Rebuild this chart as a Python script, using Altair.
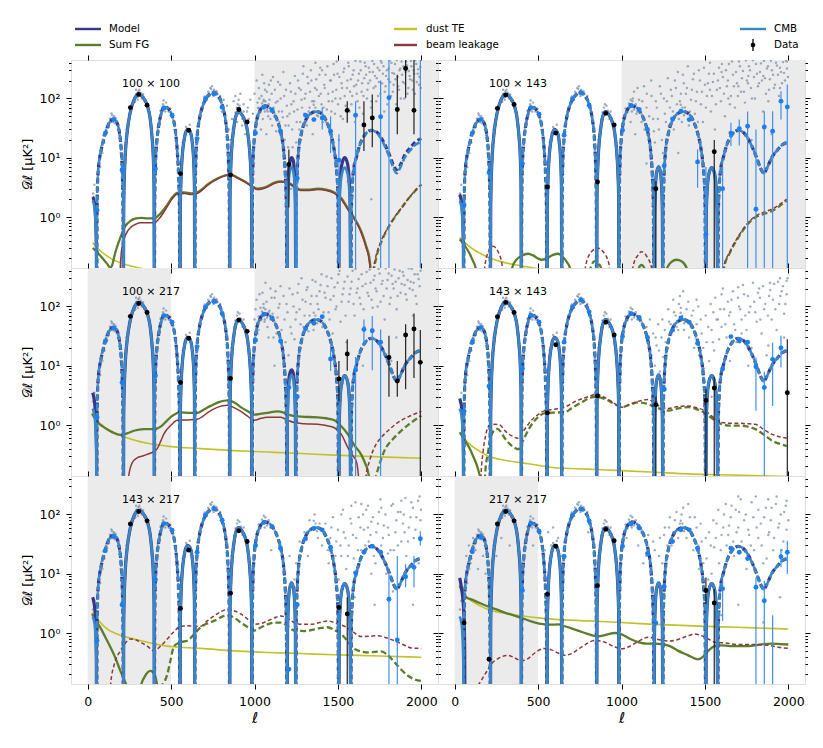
import altair as alt
import pandas as pd

# ------------------------------------------------------------------ data
PANEL_NAMES = ["100 × 100", "100 × 143", "100 × 217", "143 × 143", "143 × 217", "217 × 217"]

# excluded (grey shaded) multipole ranges per panel
SPANS = [[(1000, 2100)], [(1000, 2100)], [(0, 500), (1000, 2100)], [], [(0, 500)], [(0, 500)]]

# CMB TE best-fit |D_ell| by sign-constant arch (sign, [(ell, |D|)])
CMB_ARCHES = [
    (+1, [(30, 1.9), (38, 1.6), (44, 1.2), (49, 0.6), (52, 0.25), (54, 0.01)]),
    (-1, [(54, 0.01), (56, 1.2), (59, 3.5), (64, 6.5), (72, 10), (82, 14), (95, 20), (106, 26), (122, 35),
          (138, 42), (155, 45), (170, 42), (184, 33), (196, 20), (204, 10), (209, 4), (212, 1.2), (214, 0.01)]),
    (+1, [(214, 0.01), (216, 1.5), (220, 5), (226, 12), (236, 26), (256, 60), (280, 98), (306, 117), (330, 106),
          (356, 78), (374, 47), (386, 22), (394, 9), (398, 3), (400, 0.01)]),
    (-1, [(400, 0.01), (402, 2), (406, 7), (414, 18), (425, 33), (440, 55), (458, 72), (480, 68), (505, 52),
          (524, 31), (537, 13), (545, 5), (550, 1.5), (553, 0.01)]),
    (+1, [(553, 0.01), (555, 1.2), (559, 4), (566, 10), (578, 20), (598, 30), (615, 27), (628, 17), (636, 8),
          (640, 3), (642, 0.01)]),
    (-1, [(642, 0.01), (644, 2), (648, 8), (656, 22), (670, 45), (690, 75), (710, 100), (735, 122), (752, 128),
          (775, 118), (805, 80), (825, 45), (838, 20), (845, 7), (849, 2), (851, 0.01)]),
    (+1, [(851, 0.01), (853, 2), (857, 6), (864, 15), (876, 32), (890, 52), (905, 60), (925, 53), (945, 40),
          (958, 28), (970, 14), (978, 6), (983, 2), (985, 0.01)]),
    (-1, [(985, 0.01), (987, 2), (991, 8), (998, 20), (1010, 38), (1030, 60), (1060, 75), (1090, 70), (1110, 60),
          (1140, 40), (1160, 25), (1175, 13), (1185, 5), (1191, 1.5), (1195, 0.01)]),
    (+1, [(1195, 0.01), (1198, 1), (1203, 3), (1210, 5.5), (1222, 7), (1232, 6), (1240, 3.5), (1245, 1.2),
          (1248, 0.01)]),
    (-1, [(1248, 0.01), (1250, 1.5), (1255, 5), (1263, 12), (1280, 25), (1305, 42), (1335, 55), (1370, 60),
          (1400, 56), (1430, 42), (1455, 27), (1475, 15), (1490, 7), (1500, 2.5), (1505, 0.01)]),
    (+1, [(1505, 0.01), (1508, 1), (1514, 3), (1525, 5.5), (1540, 6.8), (1555, 5.8), (1566, 3.5), (1573, 1.2),
          (1578, 0.01)]),
    (-1, [(1578, 0.01), (1580, 1), (1585, 3), (1595, 6.5), (1610, 10), (1630, 16), (1660, 24), (1700, 29),
          (1740, 25), (1780, 16), (1810, 10), (1835, 6.5), (1852, 5.5), (1870, 6.5), (1900, 10), (1940, 14),
          (1970, 17), (2000, 18)]),
]

# total model: arches that differ from the CMB curve, per panel {arch index: points}
MODEL_OVERRIDES = [
    {0: [(30, 2.2), (38, 1.9), (44, 1.4), (49, 0.7), (52, 0.3), (54, 0.01)],
     8: [(1195, 0.01), (1197, 1.5), (1202, 4.5), (1210, 8), (1222, 10), (1232, 9), (1240, 5), (1245, 1.8), (1248, 0.01)],
     10: [(1505, 0.01), (1507, 1.5), (1513, 4.5), (1525, 8), (1540, 10), (1555, 8.5), (1566, 5), (1573, 1.8), (1578, 0.01)],
     11: [(1578, 0.01), (1580, 1), (1585, 3), (1595, 6.5), (1610, 10), (1630, 16), (1660, 24), (1700, 29),
          (1740, 26), (1780, 17), (1810, 11), (1835, 7.2), (1852, 6.3), (1870, 7.2), (1900, 11), (1940, 15.5),
          (1970, 19), (2000, 21)]},
    {0: [(30, 2.4), (38, 2.0), (44, 1.5), (49, 0.75), (52, 0.3), (54, 0.01)]},
    {0: [(30, 3.5), (38, 2.8), (44, 2.0), (49, 1.0), (53, 0.4), (55, 0.01)],
     8: [(1195, 0.01), (1197, 1.3), (1202, 4), (1210, 7), (1222, 8.5), (1232, 7.5), (1240, 4.3), (1245, 1.5), (1248, 0.01)]},
    {0: [(30, 2.8), (38, 2.3), (44, 1.7), (49, 0.85), (52, 0.35), (54, 0.01)]},
    {0: [(30, 4.0), (38, 3.2), (44, 2.3), (49, 1.2), (52, 0.45), (54, 0.01)]},
    {0: [(30, 8.5), (38, 6.5), (46, 4.5), (52, 3.0), (57, 1.5), (60, 0.5), (62, 0.01)]},
]

DUST = [
    [(30, 0.37), (76, 0.27), (146, 0.195), (236, 0.155), (330, 0.135), (420, 0.12)],
    [(30, 0.45), (100, 0.30), (200, 0.21), (300, 0.17), (400, 0.15), (490, 0.135), (560, 0.12)],
    [(26, 1.6), (76, 1.05), (156, 0.75), (277, 0.56), (477, 0.44), (677, 0.40), (877, 0.37), (1078, 0.35),
     (1279, 0.33), (1479, 0.31), (1750, 0.29), (2000, 0.275)],
    [(30, 0.75), (60, 0.58), (100, 0.45), (150, 0.36), (200, 0.30), (300, 0.255), (400, 0.23), (500, 0.21),
     (600, 0.19), (800, 0.18), (1000, 0.17), (1200, 0.16), (1400, 0.15), (1600, 0.145), (1800, 0.14), (2000, 0.135)],
    [(26, 2.2), (50, 1.8), (76, 1.5), (120, 1.15), (176, 0.96), (277, 0.79), (377, 0.68), (477, 0.6), (577, 0.57),
     (677, 0.55), (877, 0.5), (1078, 0.47), (1279, 0.45), (1479, 0.43), (1750, 0.41), (2000, 0.39)],
    [(30, 6.7), (50, 4.8), (70, 4.1), (100, 3.5), (150, 2.9), (200, 2.5), (300, 2.15), (400, 1.95), (500, 1.8),
     (600, 1.7), (800, 1.6), (1000, 1.5), (1200, 1.4), (1400, 1.33), (1600, 1.27), (1800, 1.22), (2000, 1.17)],
]

SUM_FG = [
    [(+1, [(30, 0.30), (60, 0.25), (90, 0.20), (115, 0.165), (135, 0.14), (145, 0.15), (165, 0.25), (196, 0.45),
           (225, 0.7), (256, 0.86), (290, 0.95), (317, 0.97), (360, 0.95), (397, 0.95), (430, 1.1), (477, 1.6),
           (510, 2.2), (537, 2.55), (580, 2.6), (620, 2.5), (657, 2.6), (690, 3.0), (717, 3.5), (780, 4.5),
           (830, 5.1), (858, 5.2), (900, 4.6), (940, 4.0), (975, 3.5), (1018, 3.0), (1050, 3.1), (1078, 3.3),
           (1120, 3.8), (1158, 4.0), (1190, 3.9), (1218, 3.6), (1250, 3.1), (1279, 2.9), (1330, 2.9), (1379, 3.0),
           (1430, 2.9), (1479, 2.6), (1520, 2.1), (1559, 1.4), (1600, 0.95), (1639, 0.58), (1670, 0.32),
           (1689, 0.2), (1698, 0.1), (1703, 0.01)]),
     (-1, [(1703, 0.01), (1712, 0.1), (1729, 0.2), (1759, 0.37), (1800, 0.65), (1840, 0.98), (1880, 1.4),
           (1920, 2.0), (1960, 2.7), (2000, 3.5)])],
    [(+1, [(30, 0.42), (60, 0.33), (90, 0.24), (110, 0.18), (125, 0.14), (132, 0.01)]),
     (+1, [(335, 0.01), (345, 0.14), (370, 0.19), (400, 0.22), (440, 0.24), (470, 0.225), (500, 0.2), (520, 0.19),
           (550, 0.2), (590, 0.23), (620, 0.24), (650, 0.21), (675, 0.17), (690, 0.14), (700, 0.01)]),
     (-1, [(800, 0.01), (815, 0.14), (840, 0.18), (865, 0.16), (880, 0.13), (890, 0.01)]),
     (+1, [(1090, 0.01), (1100, 0.13), (1120, 0.155), (1140, 0.13), (1150, 0.01)]),
     (+1, [(1255, 0.01), (1270, 0.13), (1300, 0.175), (1330, 0.19), (1360, 0.18), (1390, 0.14), (1400, 0.01)]),
     (-1, [(1600, 0.01), (1615, 0.14), (1650, 0.25), (1700, 0.45), (1750, 0.72), (1800, 0.98), (1850, 1.12),
           (1900, 1.25), (1950, 1.55), (1990, 1.9)])],
    [(+1, [(26, 1.55), (60, 1.1), (90, 0.95), (116, 0.85), (150, 0.75), (196, 0.68), (240, 0.73), (277, 0.8),
           (337, 0.85), (397, 0.85), (440, 0.95), (477, 1.2), (510, 1.45), (557, 1.63), (610, 1.6), (657, 1.6),
           (700, 1.85), (737, 2.1), (790, 2.45), (838, 2.6), (880, 2.4), (918, 2.0), (960, 1.7), (998, 1.5),
           (1040, 1.55), (1078, 1.6), (1138, 1.7), (1180, 1.6), (1218, 1.45), (1280, 1.38), (1379, 1.35),
           (1430, 1.3), (1479, 1.2), (1520, 0.95), (1559, 0.7), (1600, 0.45), (1639, 0.32), (1665, 0.22),
           (1679, 0.17), (1690, 0.1), (1695, 0.01)]),
     (-1, [(1695, 0.01), (1705, 0.08), (1729, 0.14), (1779, 0.37), (1830, 0.58), (1880, 0.8), (1940, 1.1),
           (2000, 1.43)])],
    [(+1, [(30, 0.75), (50, 0.62), (70, 0.5), (90, 0.4), (110, 0.3), (130, 0.22), (145, 0.16), (155, 0.12),
           (160, 0.01)]),
     (-1, [(175, 0.01), (182, 0.14), (200, 0.35), (215, 0.6), (235, 0.8), (255, 0.86), (275, 0.78), (300, 0.6),
           (330, 0.48), (355, 0.42), (380, 0.39), (410, 0.55), (440, 0.81), (470, 1.1), (500, 1.36), (530, 1.55),
           (560, 1.6), (610, 1.62), (660, 1.65), (710, 2.0), (760, 2.4), (810, 2.85), (850, 3.0), (885, 2.85),
           (920, 2.6), (960, 2.25), (1000, 2.0), (1050, 2.2), (1100, 2.4), (1150, 2.3), (1200, 2.0), (1240, 1.85),
           (1280, 1.75), (1340, 1.9), (1400, 2.0), (1450, 1.85), (1500, 1.6), (1550, 1.25), (1600, 1.03),
           (1650, 0.98), (1700, 0.98), (1750, 0.95), (1800, 0.86), (1850, 0.7), (1900, 0.55), (1950, 0.48),
           (1990, 0.44)])],
    [(+1, [(26, 2.1), (50, 1.6), (76, 1.23), (106, 0.85), (136, 0.58), (166, 0.38), (196, 0.23), (220, 0.16),
           (236, 0.12), (240, 0.01)]),
     (+1, [(310, 0.01), (320, 0.13), (340, 0.18), (377, 0.23), (400, 0.2), (415, 0.14), (420, 0.01)]),
     (-1, [(430, 0.01), (440, 0.12), (460, 0.15), (477, 0.2), (497, 0.35), (517, 0.6), (557, 0.7), (597, 0.74),
           (637, 0.95), (677, 1.25), (717, 1.45), (757, 1.6), (800, 1.85), (838, 2.0), (880, 1.8), (918, 1.5),
           (960, 1.25), (998, 1.1), (1040, 1.25), (1078, 1.4), (1120, 1.5), (1158, 1.5), (1200, 1.3), (1238, 1.1),
           (1300, 1.08), (1359, 1.15), (1400, 1.22), (1439, 1.25), (1480, 1.12), (1519, 0.96), (1560, 0.72),
           (1599, 0.54), (1640, 0.49), (1679, 0.47), (1720, 0.48), (1760, 0.49), (1800, 0.42), (1840, 0.32),
           (1880, 0.24), (1920, 0.19), (1960, 0.165), (2000, 0.155)])],
    [(+1, [(30, 6.3), (50, 4.6), (70, 4.0), (100, 3.7), (150, 3.2), (200, 2.8), (250, 2.5), (300, 2.2), (350, 2.0),
           (400, 1.8), (450, 1.6), (500, 1.45), (540, 1.4), (580, 1.38), (620, 1.4), (660, 1.3), (700, 1.2),
           (740, 1.1), (780, 1.0), (820, 0.92), (860, 0.88), (900, 0.92), (960, 1.0), (1000, 0.95), (1050, 0.8),
           (1100, 0.7), (1150, 0.66), (1200, 0.66), (1240, 0.65), (1290, 0.6), (1340, 0.5), (1400, 0.42),
           (1440, 0.37), (1460, 0.36), (1490, 0.4), (1520, 0.5), (1560, 0.6), (1600, 0.62), (1650, 0.6),
           (1700, 0.6), (1750, 0.6), (1800, 0.62), (1850, 0.65), (1900, 0.66), (1950, 0.65), (2000, 0.64)])],
]

BEAM = [
    [(+1, [(190, 0.01), (195, 0.13), (205, 0.3), (230, 0.52), (256, 0.66), (290, 0.76), (317, 0.8), (360, 0.8),
           (397, 0.8), (430, 0.95), (477, 1.5), (510, 2.1), (537, 2.45), (580, 2.5), (620, 2.4), (657, 2.5),
           (690, 2.9), (717, 3.4), (780, 4.4), (830, 5.0), (858, 5.1), (900, 4.5), (940, 3.9), (975, 3.4),
           (1018, 2.9), (1050, 3.0), (1078, 3.2), (1120, 3.7), (1158, 3.9), (1190, 3.8), (1218, 3.5), (1250, 3.0),
           (1279, 2.8), (1330, 2.8), (1379, 2.9), (1430, 2.8), (1479, 2.5), (1520, 2.0), (1559, 1.35),
           (1600, 0.9), (1639, 0.55), (1670, 0.3), (1688, 0.18), (1696, 0.1), (1700, 0.01)]),
     (-1, [(1700, 0.01), (1708, 0.1), (1725, 0.2), (1755, 0.37), (1800, 0.66), (1840, 1.0), (1880, 1.42),
           (1920, 2.0), (1960, 2.75), (2000, 3.55)])],
    [(-1, [(165, 0.01), (180, 0.14), (200, 0.25), (230, 0.32), (260, 0.26), (285, 0.15), (292, 0.01)]),
     (-1, [(770, 0.01), (785, 0.15), (820, 0.26), (856, 0.30), (890, 0.26), (925, 0.16), (940, 0.01)]),
     (-1, [(1050, 0.01), (1070, 0.15), (1100, 0.23), (1120, 0.26), (1150, 0.22), (1180, 0.14), (1190, 0.01)]),
     (-1, [(1600, 0.01), (1612, 0.14), (1650, 0.26), (1700, 0.47), (1750, 0.75), (1800, 1.02), (1850, 1.2),
           (1900, 1.35), (1950, 1.65), (1990, 2.0)])],
    [(+1, [(240, 0.01), (246, 0.14), (270, 0.24), (297, 0.28), (330, 0.3), (357, 0.32), (390, 0.35), (417, 0.40),
           (440, 0.55), (457, 0.71), (500, 1.0), (537, 1.2), (600, 1.22), (657, 1.25), (690, 1.4), (717, 1.6),
           (780, 2.0), (838, 2.15), (880, 1.95), (918, 1.7), (960, 1.4), (998, 1.2), (1040, 1.3), (1078, 1.35),
           (1158, 1.35), (1200, 1.2), (1238, 1.1), (1300, 1.05), (1379, 1.03), (1430, 0.98), (1479, 0.9),
           (1520, 0.7), (1559, 0.42), (1590, 0.3), (1609, 0.25), (1622, 0.15), (1629, 0.01)]),
     (-1, [(1660, 0.01), (1669, 0.14), (1690, 0.25), (1719, 0.42), (1760, 0.62), (1800, 0.8), (1840, 1.0),
           (1880, 1.2), (1940, 1.45), (2000, 1.7)])],
    [(-1, [(150, 0.01), (158, 0.14), (170, 0.35), (185, 0.65), (200, 0.93), (230, 1.03), (270, 1.0), (305, 0.78),
           (340, 0.66), (380, 0.6), (420, 0.85), (460, 1.2), (500, 1.5), (540, 1.75), (600, 1.85), (660, 2.0),
           (730, 2.55), (800, 3.0), (850, 3.3), (890, 3.0), (940, 2.5), (1000, 2.0), (1060, 2.3), (1120, 2.6),
           (1160, 2.7), (1200, 2.3), (1240, 2.0), (1280, 1.9), (1340, 2.05), (1400, 2.1), (1450, 1.95),
           (1500, 1.75), (1550, 1.35), (1600, 1.1), (1650, 1.07), (1700, 1.07), (1750, 1.05), (1800, 1.03),
           (1850, 0.85), (1900, 0.7), (1950, 0.63), (1990, 0.6)])],
    [(-1, [(130, 0.01), (138, 0.14), (160, 0.3), (196, 0.5), (226, 0.68), (256, 0.79), (290, 0.76), (317, 0.7),
           (357, 0.6), (397, 0.5), (437, 0.6), (477, 0.79), (517, 1.05), (557, 1.3), (600, 1.32), (640, 1.3),
           (677, 1.3), (717, 1.6), (757, 1.94), (800, 2.3), (838, 2.5), (880, 2.35), (918, 2.1), (960, 1.7),
           (998, 1.4), (1040, 1.45), (1078, 1.6), (1120, 1.8), (1158, 1.94), (1200, 1.75), (1238, 1.5),
           (1290, 1.4), (1339, 1.4), (1390, 1.5), (1439, 1.6), (1490, 1.45), (1539, 1.3), (1590, 1.05),
           (1639, 0.87), (1690, 0.88), (1739, 0.9), (1790, 0.83), (1840, 0.74), (1890, 0.64), (1940, 0.56),
           (2000, 0.55)])],
    [(-1, [(140, 0.13), (160, 0.16), (190, 0.22), (220, 0.30), (260, 0.37), (320, 0.42), (360, 0.38), (400, 0.34),
           (440, 0.37), (480, 0.46), (540, 0.55), (580, 0.52), (620, 0.46), (660, 0.42), (700, 0.45), (760, 0.58),
           (840, 0.75), (900, 0.7), (950, 0.6), (1000, 0.54), (1040, 0.58), (1100, 0.72), (1160, 0.85),
           (1220, 0.78), (1280, 0.73), (1340, 0.78), (1400, 0.9), (1440, 0.96), (1500, 0.85), (1560, 0.7),
           (1620, 0.68), (1700, 0.64), (1780, 0.64), (1880, 0.62), (1950, 0.57), (2000, 0.55)])],
]

# binned data: multipole centres and signed D_ell per panel (positive = black, negative = blue)
BIN_ELL = [56, 106, 156, 206, 256, 306, 356, 406, 456, 506, 556, 606, 656, 706, 756, 806, 856, 906, 956, 1006,
           1056, 1106, 1156, 1206, 1256, 1306, 1356, 1406, 1456, 1506, 1556, 1606, 1656, 1706, 1756, 1806, 1856,
           1906, 1956, 1994]
BINNED = [
    [-1.3, -26, -44, -6.2, 70, 117, 77, -6.5, -69, -52, 5.4, 29, -21, -99, -120, -71, 5.1, 65, 40, -26,
     -71, -64, -28, 7.7, -4.5, -52, -44, -47, -28, -9.1, 63, -52, 35.6, 47, -49, -103, 65, 320, 63, -600],
    [-1.6, -26, -44, -5.6, 68, 114, 79, -7.9, -70, -54, 3.2, 26, -24, -98, -125, -77, 3.9, 56, 35.6, -29,
     -76, -65, -30, 3.0, -7.3, -45, -61, -44, -8.5, -0.51, 12.6, -3.0, -26, -31, -34, -1.35, -33, -28, -90, -72],
    [-1.35, -26, -43, -5.2, 68, 112, 79, -6.8, -70, -54, 5.2, 29, -21, -98, -121, -76, 6.1, 59, 38, -27,
     -74, -64, -26, -4.3, -3.0, -42, -52, -67, -13, 6.0, 15.8, -8.5, -41, -39, -25, 13.8, 5.5, 33, 41.6, 11.4],
    [-1.7, -25, -44, -4.5, 67, 117, 79, -9.0, -71, -54, 1.6, 22.6, -25, -98, -130, -81, 3.1, 54, 33, -31,
     -76, -65, -30, 2.2, -4.0, -40, -64, -54, -24, 2.6, 4.2, -8.8, -31, -26, -25, -9.6, -4.3, -12.8, -20, 3.5],
    [-0.74, -24.5, -42.5, -3.0, 69, 112, 78, -7.9, -70, -54, 2.6, 25, -23, -98, -126, -80, 4.7, 53, 35, -30,
     -73, -62, -27, -0.245, -3.0, -39, -58, -55, -28, 2.7, 2.1, -10.3, -23, -29, -23, -3.7, -0.76, -8.9, -12.8, -39],
    [1.48, -23.5, -41, 0.36, 69, 112, 78, -5.2, -71, -52, 4.5, 29, -19.6, -97, -123, -78, 6.3, 56, 36, -29,
     -69, -59, -22, -1.48, -6.1, -35, -55, -55, -27, 5.2, 3.2, -5.6, -27, -23, -18, -5.9, -3.5, -0.12, -19.4, -23],
]
# visible error bars {ell: (low, high)}
ERRS = [
    {1206: (1.44, 13.8), 1256: (0.05, 8.8), 1406: (30, 70), 1456: (12, 50), 1506: (0.01, 25), 1556: (39, 90),
     1606: (0.01, 90), 1656: (13, 90), 1706: (15, 117), 1756: (0.01, 200), 1806: (0.01, 450), 1856: (25, 250),
     1906: (103, 480), 1956: (25, 600), 1994: (0.01, 1000)},
    {1206: (0.01, 4), 1456: (3.1, 13.8), 1506: (0.01, 7), 1556: (0.01, 20), 1606: (0.01, 7), 1656: (15.7, 38.8),
     1706: (16, 44), 1756: (0.01, 60), 1806: (0.01, 30), 1856: (0.01, 61), 1906: (0.01, 61), 1956: (44, 132),
     1994: (0.01, 172)},
    {1456: (8.2, 21.8), 1506: (2.5, 12), 1556: (8.2, 28), 1606: (0.01, 14), 1656: (25, 60), 1706: (8.4, 69),
     1756: (0.01, 41), 1806: (3, 32), 1856: (3, 12), 1906: (4.0, 50), 1956: (6.2, 76), 1994: (0.01, 40)},
    {1206: (0.01, 3), 1506: (0.01, 4), 1556: (0.01, 6.5), 1806: (1.74, 13.8), 1856: (0.01, 8), 1906: (2.1, 24.6),
     1956: (9.3, 32), 1994: (0.01, 28)},
    {1556: (0.01, 4), 1806: (0.01, 10), 1856: (0.01, 20), 1906: (5.9, 14.5), 1956: (5.9, 20), 1994: (30, 52)},
    {1506: (3.1, 8.6), 1556: (0.01, 5.5), 1606: (1.6, 7.6), 1806: (0.01, 8.6), 1856: (0.01, 7.6), 1906: (0.01, 2),
     1956: (12.8, 26), 1994: (9.9, 36)},
]

# un-binned spectrum (grey dots): common low-ell halo + panel-specific high-ell scatter
HALO = [(32, 2.5), (40, 3.5), (46, 1.2), (60, 2), (62, 5), (68, 9), (75, 7), (82, 16), (88, 12), (95, 24),
        (100, 18), (110, 30), (116, 27), (122, 38), (128, 33), (134, 46), (140, 40), (146, 52), (150, 43),
        (158, 50), (163, 38), (168, 47), (175, 36), (182, 30), (190, 24), (198, 12), (210, 3), (225, 16),
        (232, 30), (240, 36), (248, 52), (262, 72), (270, 80), (278, 100), (285, 88), (292, 120), (298, 105),
        (304, 132), (312, 110), (318, 125), (325, 100), (332, 118), (340, 90), (348, 85), (362, 66), (370, 52),
        (380, 33), (392, 15), (398, 2.5), (412, 18), (420, 32), (430, 45), (436, 62), (445, 55), (452, 80),
        (462, 66), (470, 85), (478, 72), (486, 60), (495, 68), (512, 45), (520, 34), (532, 18), (552, 1.5),
        (560, 8), (570, 18), (582, 26), (590, 33), (605, 28), (612, 36), (625, 22), (645, 4), (660, 28),
        (668, 42), (675, 55), (682, 70), (695, 85), (702, 108), (715, 95), (722, 130), (730, 112), (740, 145),
        (748, 120), (758, 140), (766, 115), (772, 132), (785, 100), (795, 110), (812, 70), (820, 58), (832, 30),
        (850, 3), (862, 20), (870, 30), (880, 45), (886, 58), (895, 70), (902, 55), (910, 75), (918, 62),
        (928, 45), (935, 60), (948, 40), (958, 28), (968, 18), (988, 5), (995, 15), (1005, 32), (1015, 45),
        (1025, 68), (1035, 58), (1045, 82), (1052, 70), (1065, 90), (1075, 65), (1085, 80), (1095, 60),
        (1120, 55), (1135, 45), (1150, 30), (1200, 2.5), (1250, 4),
        (142, 56), (152, 40), (290, 140), (300, 95), (310, 140), (455, 92), (465, 60), (745, 160), (755, 110),
        (735, 150), (900, 80), (1055, 95), (1062, 60), (1365, 70), (1375, 52), (1355, 78)]

CLOUDS = [
    [(960, 70), (975, 95), (990, 55), (1000, 120), (1008, 40), (1018, 85), (1026, 150), (1034, 60), (1042, 110),
     (1050, 45), (1058, 180), (1066, 75), (1074, 130), (1082, 50), (1090, 95), (1098, 200), (1106, 35),
     (1114, 70), (1122, 140), (1130, 28), (1138, 90), (1146, 60), (1154, 170), (1162, 22), (1170, 48),
     (1178, 110), (1186, 35), (1194, 75), (1202, 15), (1210, 55), (1218, 130), (1226, 30), (1234, 90),
     (1242, 240), (1250, 18), (1258, 65), (1266, 150), (1274, 40), (1282, 95), (1290, 260), (1298, 55),
     (1306, 120), (1314, 35), (1322, 180), (1330, 70), (1338, 300), (1346, 90), (1354, 45), (1362, 150),
     (1370, 210), (1378, 60), (1386, 110), (1394, 330), (1402, 80), (1410, 40), (1418, 170), (1426, 250),
     (1434, 65), (1442, 120), (1450, 30), (1458, 200), (1466, 90), (1474, 380), (1482, 55), (1490, 140),
     (1498, 260), (1506, 20), (1514, 100), (1522, 180), (1530, 45), (1538, 320), (1546, 75), (1554, 150),
     (1562, 400), (1570, 60), (1578, 210), (1586, 110), (1594, 300), (1602, 40), (1610, 170), (1618, 90),
     (1626, 260), (1634, 420), (1642, 130), (1650, 55), (1658, 220), (1666, 350), (1674, 100), (1682, 180),
     (1690, 280), (1698, 70), (1706, 430), (1714, 150), (1722, 240), (1730, 90), (1738, 330), (1746, 190),
     (1754, 120), (1762, 400), (1770, 260), (1778, 60), (1786, 160), (1794, 300), (1802, 210), (1810, 440),
     (1818, 110), (1826, 270), (1834, 170), (1842, 380), (1850, 80), (1858, 230), (1866, 140), (1874, 320),
     (1882, 420), (1890, 190), (1898, 100), (1906, 280), (1914, 360), (1922, 150), (1930, 240), (1938, 430),
     (1946, 200), (1954, 300), (1962, 120), (1970, 380), (1978, 260), (1986, 170), (1994, 340), (1220, 3),
     (1560, 4), (1700, 2), (1880, 8),
     (805, 60), (815, 95), (825, 40), (835, 75), (845, 30), (855, 20), (865, 45), (875, 90), (885, 110),
     (895, 40), (905, 95), (915, 120), (925, 35), (935, 80), (945, 25), (955, 60), (965, 45), (1003, 25),
     (1013, 200), (1021, 70), (1029, 100), (1039, 30), (1047, 250), (1055, 90), (1063, 140), (1071, 25),
     (1079, 60), (1087, 170), (1095, 45), (1103, 120), (1111, 230), (1119, 50), (1127, 85), (1141, 190),
     (1149, 40), (1157, 100), (1165, 60), (1173, 280), (1181, 20), (1189, 140), (1197, 50), (1205, 35),
     (1213, 180), (1221, 80), (1229, 15), (1237, 60), (1245, 120), (1253, 40), (1261, 200), (1269, 30),
     (1277, 140), (1285, 70), (1293, 350), (1301, 100), (1309, 40), (1317, 230), (1325, 60), (1333, 130),
     (1341, 200), (1349, 25), (1357, 90), (1365, 400), (1373, 140), (1381, 50), (1389, 250), (1397, 120),
     (1405, 300), (1413, 70), (1421, 150), (1429, 40), (1437, 350), (1445, 90), (1453, 200), (1461, 60),
     (1469, 130), (1477, 250), (1485, 100), (1493, 420), (1501, 80), (1509, 230), (1517, 50), (1525, 150),
     (1533, 280), (1541, 110), (1549, 60), (1557, 200), (1565, 350), (1573, 130), (1581, 80), (1589, 250),
     (1597, 160), (1605, 430), (1613, 120), (1621, 200), (1629, 70), (1637, 300), (1645, 180), (1653, 110),
     (1661, 400), (1669, 250), (1677, 140), (1685, 330), (1693, 200), (1701, 90), (1709, 280), (1717, 380),
     (1725, 160), (1733, 220), (1741, 110), (1749, 300), (1757, 430), (1765, 180), (1773, 350), (1781, 130),
     (1789, 240), (1797, 80), (1805, 320), (1813, 190), (1821, 400), (1829, 130), (1837, 260), (1845, 210),
     (1853, 440), (1861, 160), (1869, 300), (1877, 100), (1885, 250), (1893, 350), (1901, 180), (1909, 420),
     (1917, 120), (1925, 290), (1933, 210), (1941, 350), (1949, 140), (1957, 260), (1965, 440), (1973, 190),
     (1981, 310), (1989, 230), (1997, 150)],
    [(1060, 80), (1075, 130), (1090, 55), (1105, 95), (1120, 40), (1135, 160), (1150, 70), (1165, 25),
     (1180, 110), (1190, 45), (1200, 18), (1212, 70), (1224, 30), (1236, 120), (1248, 12), (1260, 55),
     (1272, 90), (1284, 35), (1296, 140), (1308, 60), (1320, 200), (1332, 80), (1344, 45), (1356, 120),
     (1368, 250), (1380, 70), (1392, 150), (1404, 35), (1416, 95), (1428, 210), (1440, 55), (1452, 130),
     (1464, 300), (1476, 80), (1488, 40), (1500, 170), (1512, 110), (1524, 260), (1536, 60), (1548, 190),
     (1560, 30), (1572, 140), (1584, 330), (1596, 90), (1608, 230), (1620, 50), (1632, 160), (1644, 380),
     (1656, 110), (1668, 250), (1680, 70), (1692, 180), (1704, 420), (1716, 130), (1728, 290), (1740, 85),
     (1752, 200), (1764, 350), (1776, 150), (1788, 440), (1800, 100), (1812, 260), (1824, 180), (1836, 390),
     (1848, 60), (1860, 220), (1872, 320), (1884, 140), (1896, 430), (1908, 250), (1920, 170), (1932, 360),
     (1944, 110), (1956, 280), (1968, 410), (1980, 200), (1992, 320), (1340, 12), (1460, 9), (1620, 14),
     (1780, 20), (1900, 25), (1150, 8), (1700, 160), (1600, 280), (1850, 240), (1950, 150), (1640, 100),
     (1760, 240), (1880, 90), (1990, 420), (1530, 140),
     (1055, 40), (1068, 100), (1082, 25), (1096, 150), (1110, 60), (1124, 90), (1138, 30), (1152, 120),
     (1166, 50), (1178, 200), (1194, 28), (1206, 90), (1218, 45), (1230, 160), (1242, 20), (1254, 100),
     (1266, 40), (1278, 220), (1290, 70), (1302, 110), (1314, 30), (1326, 150), (1338, 280), (1350, 90),
     (1362, 40), (1374, 180), (1386, 120), (1398, 350), (1410, 60), (1422, 140), (1434, 260), (1446, 90),
     (1458, 40), (1470, 200), (1482, 130), (1494, 330), (1506, 70), (1518, 180), (1530, 400), (1542, 110),
     (1554, 260), (1566, 80), (1578, 200), (1590, 150), (1602, 380), (1614, 120), (1626, 300), (1638, 200),
     (1650, 80), (1662, 420), (1674, 160), (1686, 280), (1698, 110), (1710, 350), (1722, 220), (1734, 130),
     (1746, 440), (1758, 180), (1770, 300), (1782, 100), (1794, 230), (1806, 380), (1818, 160), (1830, 280),
     (1842, 200), (1854, 430), (1866, 120), (1878, 350), (1890, 210), (1902, 300), (1914, 150), (1926, 400),
     (1938, 250), (1950, 330), (1962, 180), (1974, 270), (1986, 440), (1998, 230)],
    [(1000, 60), (1012, 130), (1024, 40), (1036, 95), (1048, 170), (1060, 55), (1072, 120), (1084, 30),
     (1096, 200), (1108, 75), (1120, 140), (1132, 35), (1144, 95), (1156, 220), (1168, 20), (1180, 60),
     (1192, 110), (1204, 15), (1216, 45), (1228, 160), (1240, 28), (1252, 80), (1264, 240), (1276, 50),
     (1288, 130), (1300, 70), (1312, 190), (1324, 38), (1336, 110), (1348, 280), (1360, 60), (1372, 150),
     (1384, 90), (1396, 230), (1408, 45), (1420, 170), (1432, 320), (1444, 80), (1456, 130), (1468, 35),
     (1480, 210), (1492, 100), (1504, 350), (1516, 55), (1528, 160), (1540, 260), (1552, 25), (1564, 120),
     (1576, 200), (1588, 400), (1600, 70), (1612, 170), (1624, 290), (1636, 110), (1648, 220), (1660, 45),
     (1672, 380), (1684, 150), (1696, 250), (1708, 95), (1720, 330), (1732, 180), (1744, 430), (1756, 120),
     (1768, 270), (1780, 60), (1792, 200), (1804, 360), (1816, 140), (1828, 240), (1840, 420), (1852, 90),
     (1864, 300), (1876, 170), (1888, 380), (1900, 230), (1912, 130), (1924, 440), (1936, 260), (1948, 190),
     (1960, 350), (1972, 110), (1984, 290), (1996, 400), (1230, 6), (1530, 5), (1650, 10), (1820, 12),
     (1120, 10), (1700, 40), (1850, 30), (1950, 70),
     (1006, 90), (1018, 35), (1030, 160), (1042, 60), (1054, 110), (1066, 250), (1078, 45), (1090, 85),
     (1102, 140), (1114, 30), (1126, 180), (1138, 65), (1150, 110), (1162, 40), (1174, 150), (1186, 25),
     (1198, 80), (1210, 200), (1222, 35), (1234, 100), (1246, 60), (1258, 170), (1270, 90), (1282, 300),
     (1294, 45), (1306, 120), (1318, 210), (1330, 70), (1342, 150), (1354, 40), (1366, 260), (1378, 110),
     (1390, 180), (1402, 350), (1414, 80), (1426, 140), (1438, 220), (1450, 60), (1462, 300), (1474, 150),
     (1486, 90), (1498, 250), (1510, 400), (1522, 120), (1534, 200), (1546, 70), (1558, 320), (1570, 160),
     (1582, 260), (1594, 110), (1606, 430), (1618, 200), (1630, 140), (1642, 350), (1654, 90), (1666, 240),
     (1678, 170), (1690, 420), (1702, 130), (1714, 280), (1726, 200), (1738, 100), (1750, 360), (1762, 240),
     (1774, 150), (1786, 440), (1798, 280), (1810, 110), (1822, 330), (1834, 200), (1846, 260), (1858, 150),
     (1870, 400), (1882, 240), (1894, 330), (1906, 160), (1918, 280), (1930, 200), (1942, 430), (1954, 250),
     (1966, 150), (1978, 350), (1990, 220)],
    [(1150, 45), (1160, 25), (1170, 60), (1180, 15), (1190, 35), (1200, 10), (1210, 22), (1220, 50), (1230, 8),
     (1240, 30), (1250, 14), (1260, 40), (1270, 20), (1285, 55), (1300, 35), (1315, 80), (1330, 45), (1345, 110),
     (1360, 65), (1375, 40), (1390, 90), (1405, 30), (1420, 70), (1435, 20), (1450, 50), (1465, 15), (1480, 35),
     (1495, 9), (1510, 25), (1525, 12), (1540, 40), (1555, 18), (1570, 60), (1585, 28), (1600, 45), (1615, 90),
     (1630, 30), (1645, 70), (1660, 130), (1675, 50), (1690, 25), (1705, 100), (1720, 60), (1735, 160),
     (1750, 40), (1765, 80), (1780, 20), (1795, 120), (1810, 55), (1825, 200), (1840, 35), (1855, 90),
     (1870, 15), (1885, 150), (1900, 60), (1915, 240), (1930, 40), (1945, 110), (1960, 180), (1975, 75),
     (1990, 270), (1650, 12), (1760, 10), (1880, 22), (1975, 30), (1700, 210), (1830, 140), (1950, 300),
     (1550, 80), (1450, 130), (1350, 150), (1600, 160), (1720, 35), (1890, 250), (1990, 160), (1540, 3),
     (1210, 2.5),
     (1205, 30), (1225, 18), (1245, 60), (1265, 25), (1280, 90), (1295, 50), (1310, 130), (1325, 70),
     (1340, 40), (1355, 95), (1370, 180), (1385, 55), (1400, 120), (1415, 45), (1430, 85), (1445, 30),
     (1460, 100), (1475, 60), (1490, 20), (1505, 70), (1520, 45), (1535, 110), (1548, 25), (1562, 140),
     (1578, 60), (1592, 90), (1608, 200), (1622, 50), (1638, 120), (1652, 80), (1668, 180), (1682, 40),
     (1698, 140), (1712, 90), (1728, 230), (1742, 70), (1758, 150), (1772, 100), (1788, 250), (1802, 80),
     (1818, 170), (1832, 60), (1848, 220), (1862, 110), (1878, 70), (1892, 190), (1908, 130), (1922, 90),
     (1938, 260), (1952, 150), (1968, 220), (1982, 110), (1996, 300)],
    [(1150, 30), (1180, 12), (1210, 20), (1240, 8), (1270, 35), (1300, 50), (1330, 80), (1360, 100), (1390, 70),
     (1420, 45), (1440, 25), (1460, 60), (1475, 15), (1490, 35), (1505, 8), (1520, 20), (1535, 50), (1550, 12),
     (1565, 30), (1580, 70), (1595, 18), (1610, 40), (1625, 90), (1640, 25), (1655, 55), (1670, 120),
     (1685, 35), (1700, 75), (1715, 20), (1730, 50), (1745, 110), (1760, 30), (1775, 65), (1790, 10),
     (1805, 45), (1820, 140), (1835, 25), (1850, 80), (1865, 6), (1880, 35), (1895, 100), (1910, 20),
     (1925, 60), (1940, 160), (1955, 40), (1970, 90), (1985, 15), (1998, 120), (1600, 4), (1720, 3), (1830, 5),
     (1950, 3), (1640, 150), (1760, 130), (1880, 170), (1990, 200), (1700, 10), (1800, 22), (1900, 50),
     (1520, 100), (1580, 140), (1680, 60), (1860, 110),
     (1405, 30), (1425, 70), (1445, 15), (1455, 40), (1470, 90), (1485, 20), (1500, 55), (1515, 30),
     (1530, 120), (1545, 40), (1560, 20), (1575, 85), (1590, 45), (1605, 160), (1620, 25), (1635, 60),
     (1650, 100), (1665, 30), (1680, 140), (1695, 45), (1710, 90), (1725, 15), (1740, 70), (1755, 180),
     (1770, 40), (1785, 100), (1800, 60), (1815, 25), (1830, 150), (1845, 50), (1860, 30), (1875, 110),
     (1890, 70), (1905, 190), (1920, 35), (1935, 90), (1950, 130), (1965, 55), (1980, 170), (1995, 80),
     (1250, 15), (1320, 20), (1380, 40), (1100, 25)],
    [(70, 20), (85, 30), (95, 15), (110, 40), (125, 25), (140, 12), (170, 20), (185, 10), (380, 25), (520, 40),
     (540, 25), (560, 50), (580, 30), (620, 40), (640, 20), (800, 50), (830, 30), (1000, 20), (1030, 40),
     (1100, 30), (1130, 15), (1160, 45), (1180, 12), (1200, 25), (1215, 6), (1230, 40), (1245, 15), (1260, 60),
     (1275, 30), (1290, 90), (1310, 50), (1330, 110), (1350, 70), (1370, 130), (1390, 40), (1410, 90),
     (1430, 25), (1450, 60), (1465, 12), (1480, 35), (1495, 5), (1510, 18), (1525, 50), (1540, 10), (1555, 28),
     (1570, 70), (1585, 15), (1600, 45), (1615, 100), (1630, 30), (1645, 65), (1660, 140), (1675, 20),
     (1690, 50), (1705, 110), (1720, 35), (1735, 80), (1750, 12), (1765, 45), (1780, 160), (1795, 25),
     (1810, 60), (1825, 8), (1840, 30), (1855, 90), (1870, 18), (1885, 50), (1900, 130), (1915, 40),
     (1930, 200), (1945, 70), (1960, 25), (1975, 110), (1990, 55), (1600, 2), (1700, 3), (1850, 1.5),
     (1950, 4), (1250, 1), (1700, 200), (1820, 120), (1880, 180), (1990, 170),
     (1120, 50), (1150, 20), (1190, 35), (1225, 20), (1255, 45), (1285, 60), (1300, 30), (1320, 80),
     (1340, 40), (1360, 100), (1380, 60), (1400, 150), (1420, 45), (1440, 90), (1460, 30), (1475, 70),
     (1490, 15), (1505, 40), (1520, 8), (1535, 30), (1550, 80), (1565, 40), (1580, 120), (1595, 25),
     (1610, 60), (1625, 150), (1640, 45), (1655, 90), (1670, 35), (1685, 120), (1700, 60), (1715, 180),
     (1730, 25), (1745, 100), (1760, 55), (1775, 30), (1790, 90), (1805, 200), (1820, 40), (1835, 70),
     (1850, 15), (1865, 130), (1880, 45), (1895, 80), (1910, 25), (1925, 150), (1940, 60), (1955, 100),
     (1970, 35), (1985, 140), (2000, 80), (250, 20), (280, 40), (330, 30), (590, 60), (470, 30)],
]

X_TICKS = [0, 500, 1000, 1500, 2000]
Y_MAJOR = [1, 10, 100]
Y_MINOR = [0.2, 0.3, 0.4, 0.5, 0.6, 0.7, 0.8, 0.9, 2, 3, 4, 5, 6, 7, 8, 9,
           20, 30, 40, 50, 60, 70, 80, 90, 200, 300, 400]

# ------------------------------------------------------------------ style
C_MODEL = "#36368a"
C_CMB = "#3a87c6"
C_FG = "#5e7d2c"
C_BEAM = "#8b3a3a"
C_DUST = "#c2c22a"
C_NEG = "#1c7fef"
C_NEG_ERR = "#3f8ff0"
C_SCAT = "#7f90a8"
FONT = "DejaVu Sans"

XS = alt.Scale(domain=[-100, 2100], nice=False, zero=False)
YS = alt.Scale(type="log", domain=[0.138, 445], nice=False)
W, H = 367, 208


def seg_frame(segs, name):
    rows = []
    for k, (s, pts) in enumerate(segs):
        for l, v in pts:
            rows.append({"ell": l, "val": v, "seg": f"{name}{k}", "sign": "pos" if s > 0 else "neg"})
    return pd.DataFrame(rows)


def line_layers(df, color, width, dash):
    out = []
    for sign in ["pos", "neg"]:
        d = df[df["sign"] == sign]
        if len(d) == 0:
            continue
        kw = dict(color=color, strokeWidth=width, clip=True, interpolate="monotone")
        if sign == "neg":
            kw["strokeDash"] = dash
        out.append(alt.Chart(d).mark_line(**kw).encode(
            x=alt.X("ell:Q", scale=XS, axis=None),
            y=alt.Y("val:Q", scale=YS, axis=None),
            detail="seg:N"))
    return out


def axis_carrier(xaxis, yaxis):
    d = pd.DataFrame({"ell": [0], "val": [1]})
    return alt.Chart(d).mark_point(opacity=0, size=1).encode(
        x=alt.X("ell:Q", scale=XS, axis=xaxis),
        y=alt.Y("val:Q", scale=YS, axis=yaxis))


ONE = pd.DataFrame({"k": [0]})


def leg_line(x1, x2, y, color, width=2.4):
    return alt.Chart(ONE).mark_rule(color=color, strokeWidth=width).encode(
        x=alt.value(x1), x2=alt.value(x2), y=alt.value(y))


def leg_text(x, y, txt):
    return alt.Chart(ONE).mark_text(text=txt, align="left", baseline="middle", fontSize=10.3,
                                    font=FONT, color="black").encode(x=alt.value(x), y=alt.value(y))


def panel(i):
    col, row = i % 2, i // 2
    left, bottom = col == 0, row == 2
    layers = []
    if SPANS[i]:
        sp = pd.DataFrame(SPANS[i], columns=["a", "b"])
        layers.append(alt.Chart(sp).mark_rect(color="#ebebeb", clip=True).encode(
            x=alt.X("a:Q", scale=XS, axis=None), x2="b:Q"))
    sc = pd.DataFrame(HALO + CLOUDS[i], columns=["ell", "val"])
    layers.append(alt.Chart(sc).mark_circle(size=6, color=C_SCAT, opacity=0.75, clip=True).encode(
        x=alt.X("ell:Q", scale=XS, axis=None), y=alt.Y("val:Q", scale=YS, axis=None)))
    dust = pd.DataFrame(DUST[i], columns=["ell", "val"])
    layers.append(alt.Chart(dust).mark_line(color=C_DUST, strokeWidth=1.6, clip=True,
                                            interpolate="monotone").encode(
        x=alt.X("ell:Q", scale=XS, axis=None), y=alt.Y("val:Q", scale=YS, axis=None)))
    layers += line_layers(seg_frame(SUM_FG[i], "fg"), C_FG, 2.3, [6, 3])
    layers += line_layers(seg_frame(BEAM[i], "bm"), C_BEAM, 1.5, [4, 2.5])
    model_segs = [(s, MODEL_OVERRIDES[i].get(k, pts)) for k, (s, pts) in enumerate(CMB_ARCHES)]
    layers += line_layers(seg_frame(model_segs, "md"), C_MODEL, 3.2, [5, 3])
    layers += line_layers(seg_frame(CMB_ARCHES, "cmb"), C_CMB, 2.6, [7, 2.5])

    rows = []
    for l, v in zip(BIN_ELL, BINNED[i]):
        lo, hi = ERRS[i].get(l, (None, None))
        rows.append({"ell": l, "val": abs(v), "sign": "pos" if v > 0 else "neg", "lo": lo, "hi": hi})
    bd = pd.DataFrame(rows)
    eb = bd.dropna(subset=["lo"])
    for sign, cpt, cer in [("neg", C_NEG, C_NEG_ERR), ("pos", "black", "#222222")]:
        e = eb[eb["sign"] == sign]
        if len(e):
            layers.append(alt.Chart(e).mark_rule(color=cer, strokeWidth=1.2, clip=True).encode(
                x=alt.X("ell:Q", scale=XS, axis=None), y=alt.Y("lo:Q", scale=YS, axis=None), y2="hi:Q"))
        p = bd[bd["sign"] == sign]
        layers.append(alt.Chart(p).mark_circle(size=24, color=cpt, opacity=1, clip=True).encode(
            x=alt.X("ell:Q", scale=XS, axis=None), y=alt.Y("val:Q", scale=YS, axis=None)))

    lab = pd.DataFrame({"ell": [205], "val": [172], "t": [PANEL_NAMES[i]]})
    layers.append(alt.Chart(lab).mark_text(align="left", baseline="middle", fontSize=11, font=FONT,
                                           color="black").encode(
        x=alt.X("ell:Q", scale=XS, axis=None), y=alt.Y("val:Q", scale=YS, axis=None), text="t:N"))

    # axes
    ax_common = dict(domain=False, grid=False, zindex=3, tickColor="black", tickWidth=1)
    xb = alt.Axis(orient="bottom", values=X_TICKS, tickSize=5, labels=bottom, format="d",
                  labelFontSize=12.5, labelFont=FONT, labelPadding=6, labelColor="black",
                  title="ℓ" if bottom else None, titleFontSize=15, titleFont=FONT, titlePadding=3,
                  titleFontWeight="normal", titleColor="black", **ax_common)
    xt = alt.Axis(orient="top", values=X_TICKS, tickSize=5, labels=False, title=None, **ax_common)
    yl = alt.Axis(orient="left", values=Y_MAJOR, tickSize=5, labels=left,
                  labelExpr="datum.value == 1 ? '10⁰' : (datum.value == 10 ? '10¹' : '10²')",
                  labelFontSize=12.5, labelFont=FONT, labelPadding=6, labelColor="black",
                  title="𝒟ℓ  [μK²]" if left else None, titleFontSize=13, titleFont=FONT,
                  titleFontWeight="normal", titlePadding=5, titleColor="black", **ax_common)
    ylm = alt.Axis(orient="left", values=Y_MINOR, tickSize=2.5, labels=False, title=None, **ax_common)
    yr = alt.Axis(orient="right", values=Y_MAJOR, tickSize=5, labels=False, title=None, **ax_common)
    yrm = alt.Axis(orient="right", values=Y_MINOR, tickSize=2.5, labels=False, title=None, **ax_common)
    layers.append(axis_carrier(xb, yl))
    layers.append(axis_carrier(xt, ylm))
    layers.append(axis_carrier(None, yr))
    layers.append(axis_carrier(None, yrm))

    # figure legend lives above the top row
    if i == 0:
        layers += [leg_line(4, 30, -31, C_MODEL), leg_text(38, -31, "Model"),
                   leg_line(4, 30, -15, C_FG), leg_text(38, -15, "Sum FG"),
                   leg_line(323, 346, -31, C_DUST), leg_text(355, -31, "dust TE"),
                   leg_line(323, 346, -15, C_BEAM), leg_text(355, -15, "beam leakage"),
                   alt.Chart(ONE).mark_rule(color="white", strokeWidth=1).encode(
                       x=alt.value(-62), x2=alt.value(-61), y=alt.value(-51))]
    if i == 1:
        layers += [leg_line(302, 328, -31, C_CMB), leg_text(336, -31, "CMB"),
                   alt.Chart(ONE).mark_rule(color="black", strokeWidth=1.3).encode(
                       x=alt.value(315), y=alt.value(-21), y2=alt.value(-9)),
                   alt.Chart(ONE).mark_circle(color="black", size=22, opacity=1).encode(
                       x=alt.value(315), y=alt.value(-15)),
                   leg_text(336, -15, "Data")]

    return alt.layer(*layers).properties(width=W, height=H).resolve_axis(x="independent", y="independent")


panels = [panel(i) for i in range(6)]
chart = alt.concat(*panels, columns=2, spacing=0, bounds="flush").properties(padding=0)
chart = chart.configure_view(stroke="black", strokeWidth=1.1).configure(font=FONT)
chart.save("out.html", embed_options={"renderer": "svg", "actions": False})
